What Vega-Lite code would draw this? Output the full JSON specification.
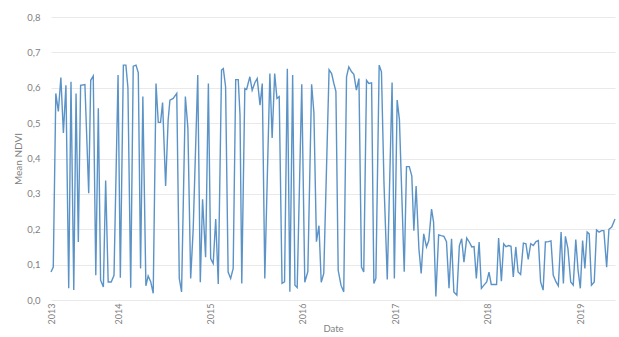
{
  "$schema": "https://vega.github.io/schema/vega-lite/v6.json",
  "width": 564,
  "height": 283,
  "autosize": "none",
  "padding": {"left": 51, "top": 17, "right": 4, "bottom": 37},
  "config": {
    "view": {"stroke": null},
    "font": "Lato",
    "axis": {
      "domain": false,
      "ticks": false,
      "labelColor": "#7f7f7f",
      "titleColor": "#7f7f7f",
      "labelFontSize": 9.5,
      "titleFontSize": 10,
      "titleFontWeight": "normal",
      "gridColor": "#e9e9e9",
      "gridWidth": 1
    }
  },
  "data": {
    "values": [
      {"date": "2013-04-11T00:00", "ndvi": 0.079},
      {"date": "2013-04-20T00:00", "ndvi": 0.093},
      {"date": "2013-04-30T00:00", "ndvi": 0.584},
      {"date": "2013-05-10T00:00", "ndvi": 0.533},
      {"date": "2013-05-20T00:00", "ndvi": 0.629},
      {"date": "2013-05-30T00:00", "ndvi": 0.472},
      {"date": "2013-06-09T00:00", "ndvi": 0.607},
      {"date": "2013-06-20T00:00", "ndvi": 0.033},
      {"date": "2013-06-29T00:00", "ndvi": 0.617},
      {"date": "2013-07-10T00:00", "ndvi": 0.028},
      {"date": "2013-07-19T00:00", "ndvi": 0.584},
      {"date": "2013-07-28T00:00", "ndvi": 0.164},
      {"date": "2013-08-06T00:00", "ndvi": 0.607},
      {"date": "2013-08-23T00:00", "ndvi": 0.609},
      {"date": "2013-09-07T00:00", "ndvi": 0.302},
      {"date": "2013-09-15T00:00", "ndvi": 0.621},
      {"date": "2013-09-25T00:00", "ndvi": 0.633},
      {"date": "2013-10-05T00:00", "ndvi": 0.07},
      {"date": "2013-10-15T00:00", "ndvi": 0.542},
      {"date": "2013-10-24T00:00", "ndvi": 0.056},
      {"date": "2013-11-04T00:00", "ndvi": 0.037},
      {"date": "2013-11-13T00:00", "ndvi": 0.338},
      {"date": "2013-11-23T00:00", "ndvi": 0.051},
      {"date": "2013-12-05T00:00", "ndvi": 0.051},
      {"date": "2013-12-16T00:00", "ndvi": 0.07},
      {"date": "2014-01-01T00:00", "ndvi": 0.636},
      {"date": "2014-01-10T00:00", "ndvi": 0.063},
      {"date": "2014-01-22T00:00", "ndvi": 0.664},
      {"date": "2014-02-01T00:00", "ndvi": 0.664},
      {"date": "2014-02-09T00:00", "ndvi": 0.6},
      {"date": "2014-02-20T00:00", "ndvi": 0.035},
      {"date": "2014-03-02T00:00", "ndvi": 0.661},
      {"date": "2014-03-13T00:00", "ndvi": 0.664},
      {"date": "2014-03-22T00:00", "ndvi": 0.642},
      {"date": "2014-03-31T00:00", "ndvi": 0.089},
      {"date": "2014-04-09T00:00", "ndvi": 0.575},
      {"date": "2014-04-21T00:00", "ndvi": 0.04},
      {"date": "2014-04-30T00:00", "ndvi": 0.068},
      {"date": "2014-05-10T00:00", "ndvi": 0.052},
      {"date": "2014-05-20T00:00", "ndvi": 0.019},
      {"date": "2014-05-31T00:00", "ndvi": 0.612},
      {"date": "2014-06-09T00:00", "ndvi": 0.502},
      {"date": "2014-06-18T00:00", "ndvi": 0.502},
      {"date": "2014-06-26T00:00", "ndvi": 0.558},
      {"date": "2014-07-08T00:00", "ndvi": 0.322},
      {"date": "2014-07-18T00:00", "ndvi": 0.509},
      {"date": "2014-07-25T00:00", "ndvi": 0.565},
      {"date": "2014-08-07T00:00", "ndvi": 0.57},
      {"date": "2014-08-21T00:00", "ndvi": 0.584},
      {"date": "2014-08-31T00:00", "ndvi": 0.061},
      {"date": "2014-09-09T00:00", "ndvi": 0.023},
      {"date": "2014-09-24T00:00", "ndvi": 0.575},
      {"date": "2014-10-04T00:00", "ndvi": 0.486},
      {"date": "2014-10-15T00:00", "ndvi": 0.061},
      {"date": "2014-10-25T00:00", "ndvi": 0.2},
      {"date": "2014-11-12T00:00", "ndvi": 0.636},
      {"date": "2014-11-22T00:00", "ndvi": 0.05},
      {"date": "2014-12-01T00:00", "ndvi": 0.285},
      {"date": "2014-12-13T00:00", "ndvi": 0.121},
      {"date": "2014-12-24T00:00", "ndvi": 0.612},
      {"date": "2015-01-02T00:00", "ndvi": 0.117},
      {"date": "2015-01-12T00:00", "ndvi": 0.103},
      {"date": "2015-01-22T00:00", "ndvi": 0.229},
      {"date": "2015-02-01T00:00", "ndvi": 0.045},
      {"date": "2015-02-14T00:00", "ndvi": 0.65},
      {"date": "2015-02-21T00:00", "ndvi": 0.654},
      {"date": "2015-03-02T00:00", "ndvi": 0.603},
      {"date": "2015-03-12T00:00", "ndvi": 0.079},
      {"date": "2015-03-22T00:00", "ndvi": 0.061},
      {"date": "2015-04-01T00:00", "ndvi": 0.089},
      {"date": "2015-04-11T00:00", "ndvi": 0.623},
      {"date": "2015-04-21T00:00", "ndvi": 0.623},
      {"date": "2015-04-28T00:00", "ndvi": 0.523},
      {"date": "2015-05-05T00:00", "ndvi": 0.047},
      {"date": "2015-05-17T00:00", "ndvi": 0.598},
      {"date": "2015-05-24T00:00", "ndvi": 0.595},
      {"date": "2015-05-30T00:00", "ndvi": 0.612},
      {"date": "2015-06-06T00:00", "ndvi": 0.631},
      {"date": "2015-06-15T00:00", "ndvi": 0.593},
      {"date": "2015-06-26T00:00", "ndvi": 0.615},
      {"date": "2015-07-05T00:00", "ndvi": 0.626},
      {"date": "2015-07-16T00:00", "ndvi": 0.551},
      {"date": "2015-07-25T00:00", "ndvi": 0.612},
      {"date": "2015-08-04T00:00", "ndvi": 0.061},
      {"date": "2015-08-24T00:00", "ndvi": 0.64},
      {"date": "2015-09-02T00:00", "ndvi": 0.458},
      {"date": "2015-09-12T00:00", "ndvi": 0.64},
      {"date": "2015-09-21T00:00", "ndvi": 0.57},
      {"date": "2015-09-30T00:00", "ndvi": 0.575},
      {"date": "2015-10-11T00:00", "ndvi": 0.047},
      {"date": "2015-10-21T00:00", "ndvi": 0.051},
      {"date": "2015-11-01T00:00", "ndvi": 0.654},
      {"date": "2015-11-11T00:00", "ndvi": 0.023},
      {"date": "2015-11-22T00:00", "ndvi": 0.636},
      {"date": "2015-12-01T00:00", "ndvi": 0.042},
      {"date": "2015-12-10T00:00", "ndvi": 0.035},
      {"date": "2015-12-28T00:00", "ndvi": 0.61},
      {"date": "2016-01-09T00:00", "ndvi": 0.05},
      {"date": "2016-01-21T00:00", "ndvi": 0.08},
      {"date": "2016-02-05T00:00", "ndvi": 0.61},
      {"date": "2016-02-14T00:00", "ndvi": 0.53},
      {"date": "2016-02-24T00:00", "ndvi": 0.165},
      {"date": "2016-03-05T00:00", "ndvi": 0.21},
      {"date": "2016-03-14T00:00", "ndvi": 0.05},
      {"date": "2016-03-24T00:00", "ndvi": 0.075},
      {"date": "2016-04-14T00:00", "ndvi": 0.651},
      {"date": "2016-04-24T00:00", "ndvi": 0.64},
      {"date": "2016-05-03T00:00", "ndvi": 0.612},
      {"date": "2016-05-11T00:00", "ndvi": 0.59},
      {"date": "2016-05-20T00:00", "ndvi": 0.084},
      {"date": "2016-05-31T00:00", "ndvi": 0.042},
      {"date": "2016-06-11T00:00", "ndvi": 0.023},
      {"date": "2016-06-22T00:00", "ndvi": 0.631},
      {"date": "2016-07-01T00:00", "ndvi": 0.659},
      {"date": "2016-07-12T00:00", "ndvi": 0.645},
      {"date": "2016-07-21T00:00", "ndvi": 0.638},
      {"date": "2016-07-31T00:00", "ndvi": 0.593},
      {"date": "2016-08-10T00:00", "ndvi": 0.626},
      {"date": "2016-08-20T00:00", "ndvi": 0.093},
      {"date": "2016-08-29T00:00", "ndvi": 0.079},
      {"date": "2016-09-09T00:00", "ndvi": 0.621},
      {"date": "2016-09-18T00:00", "ndvi": 0.612},
      {"date": "2016-09-29T00:00", "ndvi": 0.614},
      {"date": "2016-10-08T00:00", "ndvi": 0.047},
      {"date": "2016-10-16T00:00", "ndvi": 0.061},
      {"date": "2016-10-29T00:00", "ndvi": 0.664},
      {"date": "2016-11-07T00:00", "ndvi": 0.645},
      {"date": "2016-11-17T00:00", "ndvi": 0.33},
      {"date": "2016-11-30T00:00", "ndvi": 0.058},
      {"date": "2016-12-19T00:00", "ndvi": 0.615},
      {"date": "2016-12-28T00:00", "ndvi": 0.061},
      {"date": "2017-01-08T00:00", "ndvi": 0.565},
      {"date": "2017-01-17T00:00", "ndvi": 0.51},
      {"date": "2017-02-05T00:00", "ndvi": 0.08},
      {"date": "2017-02-14T00:00", "ndvi": 0.377},
      {"date": "2017-02-25T00:00", "ndvi": 0.377},
      {"date": "2017-03-07T00:00", "ndvi": 0.35},
      {"date": "2017-03-15T00:00", "ndvi": 0.196},
      {"date": "2017-03-24T00:00", "ndvi": 0.322},
      {"date": "2017-04-04T00:00", "ndvi": 0.145},
      {"date": "2017-04-13T00:00", "ndvi": 0.075},
      {"date": "2017-04-23T00:00", "ndvi": 0.187},
      {"date": "2017-05-04T00:00", "ndvi": 0.15},
      {"date": "2017-05-13T00:00", "ndvi": 0.168},
      {"date": "2017-05-24T00:00", "ndvi": 0.257},
      {"date": "2017-06-01T00:00", "ndvi": 0.22},
      {"date": "2017-06-10T00:00", "ndvi": 0.01},
      {"date": "2017-06-21T00:00", "ndvi": 0.184},
      {"date": "2017-07-01T00:00", "ndvi": 0.182},
      {"date": "2017-07-12T00:00", "ndvi": 0.18},
      {"date": "2017-07-22T00:00", "ndvi": 0.165},
      {"date": "2017-08-01T00:00", "ndvi": 0.033},
      {"date": "2017-08-11T00:00", "ndvi": 0.173},
      {"date": "2017-08-20T00:00", "ndvi": 0.023},
      {"date": "2017-09-01T00:00", "ndvi": 0.014},
      {"date": "2017-09-11T00:00", "ndvi": 0.154},
      {"date": "2017-09-20T00:00", "ndvi": 0.173},
      {"date": "2017-09-29T00:00", "ndvi": 0.107},
      {"date": "2017-10-10T00:00", "ndvi": 0.175},
      {"date": "2017-10-20T00:00", "ndvi": 0.164},
      {"date": "2017-10-30T00:00", "ndvi": 0.15},
      {"date": "2017-11-08T00:00", "ndvi": 0.151},
      {"date": "2017-11-17T00:00", "ndvi": 0.061},
      {"date": "2017-11-28T00:00", "ndvi": 0.164},
      {"date": "2017-12-07T00:00", "ndvi": 0.033},
      {"date": "2017-12-17T00:00", "ndvi": 0.042},
      {"date": "2017-12-28T00:00", "ndvi": 0.051},
      {"date": "2018-01-06T00:00", "ndvi": 0.079},
      {"date": "2018-01-15T00:00", "ndvi": 0.044},
      {"date": "2018-01-26T00:00", "ndvi": 0.044},
      {"date": "2018-02-05T00:00", "ndvi": 0.044},
      {"date": "2018-02-13T00:00", "ndvi": 0.175},
      {"date": "2018-02-24T00:00", "ndvi": 0.053},
      {"date": "2018-03-05T00:00", "ndvi": 0.159},
      {"date": "2018-03-14T00:00", "ndvi": 0.151},
      {"date": "2018-03-25T00:00", "ndvi": 0.154},
      {"date": "2018-04-03T00:00", "ndvi": 0.152},
      {"date": "2018-04-12T00:00", "ndvi": 0.065},
      {"date": "2018-04-22T00:00", "ndvi": 0.15},
      {"date": "2018-05-01T00:00", "ndvi": 0.079},
      {"date": "2018-05-11T00:00", "ndvi": 0.072},
      {"date": "2018-05-22T00:00", "ndvi": 0.161},
      {"date": "2018-06-01T00:00", "ndvi": 0.159},
      {"date": "2018-06-10T00:00", "ndvi": 0.115},
      {"date": "2018-06-20T00:00", "ndvi": 0.159},
      {"date": "2018-06-30T00:00", "ndvi": 0.154},
      {"date": "2018-07-11T00:00", "ndvi": 0.165},
      {"date": "2018-07-20T00:00", "ndvi": 0.168},
      {"date": "2018-07-29T00:00", "ndvi": 0.051},
      {"date": "2018-08-08T00:00", "ndvi": 0.028},
      {"date": "2018-08-17T00:00", "ndvi": 0.164},
      {"date": "2018-08-29T00:00", "ndvi": 0.165},
      {"date": "2018-09-08T00:00", "ndvi": 0.167},
      {"date": "2018-09-17T00:00", "ndvi": 0.07},
      {"date": "2018-09-28T00:00", "ndvi": 0.051},
      {"date": "2018-10-07T00:00", "ndvi": 0.04},
      {"date": "2018-10-18T00:00", "ndvi": 0.192},
      {"date": "2018-10-27T00:00", "ndvi": 0.047},
      {"date": "2018-11-04T00:00", "ndvi": 0.18},
      {"date": "2018-11-14T00:00", "ndvi": 0.145},
      {"date": "2018-11-25T00:00", "ndvi": 0.051},
      {"date": "2018-12-05T00:00", "ndvi": 0.042},
      {"date": "2018-12-15T00:00", "ndvi": 0.171},
      {"date": "2018-12-24T00:00", "ndvi": 0.084},
      {"date": "2019-01-02T00:00", "ndvi": 0.033},
      {"date": "2019-01-11T00:00", "ndvi": 0.168},
      {"date": "2019-01-20T00:00", "ndvi": 0.089},
      {"date": "2019-01-29T00:00", "ndvi": 0.192},
      {"date": "2019-02-06T00:00", "ndvi": 0.187},
      {"date": "2019-02-15T00:00", "ndvi": 0.042},
      {"date": "2019-02-26T00:00", "ndvi": 0.051},
      {"date": "2019-03-07T00:00", "ndvi": 0.198},
      {"date": "2019-03-17T00:00", "ndvi": 0.192},
      {"date": "2019-03-27T00:00", "ndvi": 0.196},
      {"date": "2019-04-05T00:00", "ndvi": 0.196},
      {"date": "2019-04-16T00:00", "ndvi": 0.093},
      {"date": "2019-04-25T00:00", "ndvi": 0.2},
      {"date": "2019-05-06T00:00", "ndvi": 0.206},
      {"date": "2019-05-19T00:00", "ndvi": 0.229}
    ]
  },
  "mark": {"type": "line", "color": "#5b93c7", "strokeWidth": 1.4, "strokeJoin": "miter", "strokeMiterLimit": 4},
  "encoding": {
    "x": {
      "field": "date",
      "type": "temporal",
      "title": "Date",
      "scale": {
        "domain": [
          {"year": 2013, "month": 4, "date": 11},
          {"year": 2019, "month": 5, "date": 19}
        ],
        "nice": false
      },
      "axis": {
        "grid": false,
        "values": [
          {"year": 2013, "month": 4, "date": 11},
          {"year": 2014, "month": 1, "date": 1},
          {"year": 2015, "month": 1, "date": 1},
          {"year": 2016, "month": 1, "date": 1},
          {"year": 2017, "month": 1, "date": 1},
          {"year": 2018, "month": 1, "date": 1},
          {"year": 2019, "month": 1, "date": 1}
        ],
        "format": "%Y",
        "labelAngle": 270,
        "labelFontSize": 9,
        "labelPadding": 3,
        "labelFlush": false,
        "labelOverlap": false,
        "titleFontSize": 9.5,
        "titlePadding": 0
      }
    },
    "y": {
      "field": "ndvi",
      "type": "quantitative",
      "title": "Mean NDVI",
      "scale": {"domain": [0, 0.8], "nice": false},
      "axis": {
        "values": [0, 0.1, 0.2, 0.3, 0.4, 0.5, 0.6, 0.7, 0.8],
        "labelExpr": "replace(format(datum.value, '.1f'), '.', ',')",
        "labelPadding": 11,
        "titlePadding": 3
      }
    }
  }
}
